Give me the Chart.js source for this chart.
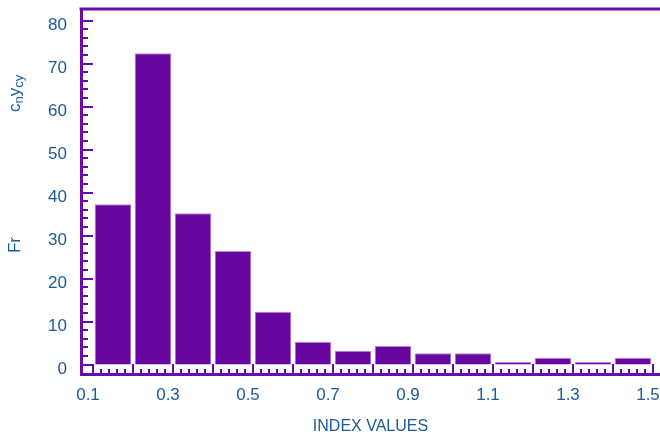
<!DOCTYPE html>
<html>
<head>
<meta charset="utf-8">
<script src="https://cdn.jsdelivr.net/npm/chart.js@4.4.0/dist/chart.umd.min.js"></script>
<style>html,body{margin:0;padding:0;background:#fff}</style>
</head>
<body>
<canvas id="myChart" width="660" height="437"></canvas>
<script>
// histogram of index values
const binCenters = [0.15, 0.25, 0.35, 0.45, 0.55, 0.65, 0.75, 0.85, 0.95, 1.05, 1.15, 1.25, 1.35, 1.45]
const frequencies = [37.3, 72.4, 35.2, 26.4, 12.3, 5.3, 3.2, 4.3, 2.6, 2.6, 0.6, 1.6, 0.6, 1.6]
const xTickLabels = ['0.1', '0.3', '0.5', '0.7', '0.9', '1.1', '1.3', '1.5']
const yTickLabels = ['0', '10', '20', '30', '40', '50', '60', '70', '80']

const axisColor = '#6a0aa8'
const barColor = '#66069f'
const textColor = '#1a5b97'
const fontFamily = '"Liberation Sans", Arial, sans-serif'

// ticks point into the plot, plus the top frame line and the y title
const frame = {
    id: 'frame',
    afterDatasetsDraw(chart) {
        const {ctx, chartArea: a, scales: {x, y}} = chart
        ctx.save()
        ctx.strokeStyle = axisColor
        ctx.lineWidth = 2
        for (let k = 0; k * 2 <= 80; k++) {
            const py = Math.round(y.getPixelForValue(k * 2))
            const len = k % 5 === 0 ? 12 : 7
            ctx.beginPath()
            ctx.moveTo(a.left, py)
            ctx.lineTo(a.left + len, py)
            ctx.stroke()
        }
        for (let k = 5; k * 0.02 <= x.max; k++) {
            const px = Math.round(x.getPixelForValue(k * 0.02))
            const len = k % 5 === 0 ? 10 : 5
            ctx.beginPath()
            ctx.moveTo(px, a.bottom)
            ctx.lineTo(px, a.bottom - len)
            ctx.stroke()
        }
        ctx.lineWidth = 3
        ctx.beginPath()
        ctx.moveTo(a.left - 1.5, a.top)
        ctx.lineTo(a.right, a.top)
        ctx.stroke()

        ctx.fillStyle = textColor
        ctx.textBaseline = 'alphabetic'
        ctx.translate(20, 245)
        ctx.rotate(-Math.PI / 2)
        ctx.font = '17px ' + fontFamily
        ctx.textAlign = 'center'
        ctx.fillText('Fr', 0, 0)
        ctx.textAlign = 'left'
        let pos = 133
        const parts = [['c', 17, 0], ['n', 13, 3], ['y', 17, 0], ['cy', 13, 3]]
        parts.forEach(([t, size, shift]) => {
            ctx.font = size + 'px ' + fontFamily
            ctx.fillText(t, pos, shift)
            pos += ctx.measureText(t).width
        })
        ctx.restore()
    }
}

const ctx = document.getElementById('myChart').getContext('2d')

let myChart = new Chart(ctx, {
    type: 'bar',
    data: {
        datasets: [
            {
                data: binCenters.map((c, i) => ({x: c, y: frequencies[i]})),
                backgroundColor: barColor,
                borderColor: '#b58ad6',
                borderWidth: 1,
                borderSkipped: 'bottom',
                barPercentage: 0.92,
                categoryPercentage: 1
            }
        ]
    },
    options: {
        responsive: false,
        animation: false,
        layout: {padding: {top: 9, left: 0, right: 0, bottom: 0}},
        plugins: {legend: {display: false}, tooltip: {enabled: false}},
        scales: {
            x: {
                type: 'linear',
                offset: false,
                min: 0.07,
                max: 1.5175,
                grid: {display: false, drawTicks: false},
                border: {display: true, color: axisColor, width: 3},
                afterBuildTicks: s => { s.ticks = xTickLabels.map(t => ({value: parseFloat(t)})) },
                afterFit: s => { s.height = 63; s.paddingLeft = 0; s.paddingRight = 0 },
                ticks: {
                    callback: (v, i) => xTickLabels[i],
                    color: textColor,
                    font: {family: fontFamily, size: 17},
                    padding: 11,
                    labelOffset: -5,
                    maxRotation: 0,
                    autoSkip: false
                },
                title: {
                    display: true,
                    text: 'INDEX VALUES',
                    color: textColor,
                    font: {family: fontFamily, size: 16},
                    padding: {top: 0, bottom: 1}
                }
            },
            y: {
                min: -2.2,
                max: 82.7,
                grid: {display: false, drawTicks: false},
                border: {display: true, color: axisColor, width: 3},
                afterBuildTicks: s => { s.ticks = yTickLabels.map(t => ({value: parseFloat(t)})) },
                afterFit: s => { s.width = 81; s.paddingTop = 0; s.paddingBottom = 0 },
                ticks: {
                    callback: (v, i) => yTickLabels[i],
                    color: textColor,
                    font: {family: fontFamily, size: 17},
                    padding: 14,
                    labelOffset: 5
                }
            }
        }
    },
    plugins: [frame]
})
</script>
</body>
</html>
